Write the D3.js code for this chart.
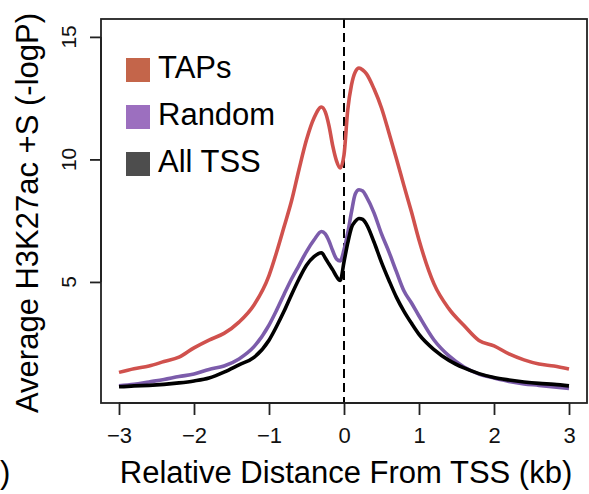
<!DOCTYPE html>
<html>
<head>
<meta charset="utf-8">
<script src="https://cdn.jsdelivr.net/npm/d3@7"></script>
<style>
  body { margin: 0; background: #fff; }
  svg { display: block; font-family: "Liberation Sans", Arial, Helvetica, sans-serif; }
</style>
</head>
<body>
<svg id="chart" width="589" height="494"></svg>
<script>
// distance from TSS (kb), shared by all three profiles
let distance = [-3, -2.8, -2.6, -2.4, -2.2, -2.0, -1.8, -1.6, -1.4, -1.2, -1.0, -0.9, -0.8, -0.7, -0.6, -0.5,
    -0.4, -0.3, -0.25, -0.2, -0.15, -0.1, -0.05, 0, 0.05, 0.1, 0.15, 0.2, 0.25, 0.3, 0.4, 0.5, 0.6, 0.7,
    0.8, 0.9, 1.0, 1.2, 1.4, 1.6, 1.8, 2.0, 2.2, 2.4, 2.6, 2.8, 3.0];

let taps = [1.31, 1.46, 1.57, 1.75, 1.93, 2.31, 2.63, 2.90, 3.36, 4.06, 5.26, 6.20, 7.24, 8.30, 9.59, 10.80,
    11.69, 12.14, 11.94, 11.37, 10.55, 9.94, 9.65, 10.18, 12.02, 13.04, 13.57, 13.73, 13.65, 13.49, 12.88,
    12.10, 11.08, 10.02, 8.92, 7.85, 6.71, 4.92, 3.90, 3.22, 2.61, 2.39, 2.06, 1.82, 1.65, 1.57, 1.45];

let random = [0.76, 0.82, 0.92, 1.02, 1.14, 1.24, 1.43, 1.57, 1.86, 2.36, 3.24, 3.84, 4.49, 5.12, 5.68, 6.24,
    6.71, 7.06, 6.96, 6.67, 6.27, 5.94, 5.86, 6.31, 7.0, 7.86, 8.59, 8.76, 8.71, 8.47, 7.82,
    6.96, 6.22, 5.41, 4.63, 4.14, 3.61, 2.63, 1.98, 1.53, 1.24, 1.08, 0.94, 0.84, 0.78, 0.71, 0.65];

let allTss = [0.72, 0.76, 0.78, 0.82, 0.88, 0.96, 1.08, 1.32, 1.62, 1.92, 2.62, 3.18, 3.80, 4.48, 5.12, 5.68,
    6.03, 6.19, 5.98, 5.73, 5.49, 5.22, 5.06, 5.82, 6.59, 7.22, 7.47, 7.59, 7.55, 7.35, 6.63,
    5.80, 5.06, 4.37, 3.80, 3.31, 2.86, 2.24, 1.80, 1.49, 1.26, 1.10, 1.00, 0.92, 0.86, 0.82, 0.76];

let legendLabels = ["TAPs", "Random", "All TSS"];
let xTicks = [-3, -2, -1, 0, 1, 2, 3];
let yTicks = [5, 10, 15];

let lineColors = ["#d0514d", "#7c5cab", "#000000"];
let boxColors = ["#c4654a", "#9c6fbf", "#4d4d4d"];

let svg = d3.select("#chart");

let plotLeft = 101, plotRight = 587, plotTop = 19, plotBottom = 403;

let x = d3.scaleLinear().domain([-3.24, 3.24]).range([plotLeft, plotRight]);
let y = d3.scaleLinear().domain([0.06, 15.73]).range([plotBottom, plotTop]);

// dashed line at the TSS
svg.append("line")
    .attr("x1", x(0)).attr("x2", x(0))
    .attr("y1", plotTop).attr("y2", plotBottom)
    .style("stroke", "#000")
    .style("stroke-width", 2)
    .style("stroke-dasharray", "9,5");

// the three profiles, black drawn last
let line = d3.line()
    .x(function(d) { return x(d[0]); })
    .y(function(d) { return y(d[1]); })
    .curve(d3.curveMonotoneX);

[taps, random, allTss].forEach(function(series, i) {
    svg.append("path")
        .datum(d3.zip(distance, series))
        .attr("d", line)
        .style("fill", "none")
        .style("stroke", lineColors[i])
        .style("stroke-width", 3.6)
        .style("stroke-linejoin", "round");
});

// plot box
svg.append("rect")
    .attr("x", plotLeft).attr("y", plotTop)
    .attr("width", plotRight - plotLeft).attr("height", plotBottom - plotTop)
    .style("fill", "none")
    .style("stroke", "#222")
    .style("stroke-width", 1.8);

// x axis
let xAxis = svg.append("g")
    .attr("transform", "translate(0," + plotBottom + ")")
    .call(d3.axisBottom(x).tickValues(xTicks).tickSize(12).tickPadding(12)
        .tickFormat(function(d) { return d < 0 ? "\u2212" + Math.abs(d) : d; }));
xAxis.select(".domain").attr("d", "M" + x(-3) + ",0H" + x(3)).style("stroke", "#222").style("stroke-width", 1.8);
xAxis.selectAll(".tick line").style("stroke", "#222").style("stroke-width", 1.8);
xAxis.selectAll(".tick text")
    .style("font-size", "22px")
    .style("fill", "#111")
    .style("font-family", "'Liberation Sans', Arial, sans-serif");

// y axis, labels turned like R's default
let yAxis = svg.append("g")
    .attr("transform", "translate(" + plotLeft + ",0)")
    .call(d3.axisLeft(y).tickValues(yTicks).tickSize(11).tickFormat(""));
yAxis.select(".domain").attr("d", "M0," + y(5) + "V" + y(15)).style("stroke", "#222").style("stroke-width", 1.8);
yAxis.selectAll(".tick line").style("stroke", "#222").style("stroke-width", 1.8);

svg.selectAll(".ylab")
    .data(yTicks)
    .enter().append("text")
    .attr("class", "ylab")
    .attr("transform", function(d) { return "translate(76," + y(d) + ") rotate(-90)"; })
    .attr("text-anchor", "middle")
    .style("font-size", "21px")
    .style("fill", "#111")
    .text(function(d) { return d; });

// axis titles
svg.append("text")
    .attr("x", 346).attr("y", 483)
    .attr("text-anchor", "middle")
    .style("font-size", "31px")
    .text("Relative Distance From TSS (kb)");

svg.append("text")
    .attr("transform", "translate(38,213) rotate(-90)")
    .attr("text-anchor", "middle")
    .style("font-size", "31px")
    .text("Average H3K27ac +S (-logP)");

// stray bracket from the neighbouring panel
svg.append("text")
    .attr("x", 0).attr("y", 483)
    .style("font-size", "31px")
    .text(")");

// legend
let legend = svg.selectAll(".legend")
    .data(legendLabels)
    .enter().append("g")
    .attr("class", "legend")
    .attr("transform", function(d, i) { return "translate(126," + (58 + i * 47) + ")"; });

legend.append("rect")
    .attr("width", 24).attr("height", 24)
    .style("fill", function(d, i) { return boxColors[i]; });

legend.append("text")
    .attr("x", 32).attr("y", 19.5)
    .style("font-size", "31px")
    .text(function(d) { return d; });
</script>
</body>
</html>
